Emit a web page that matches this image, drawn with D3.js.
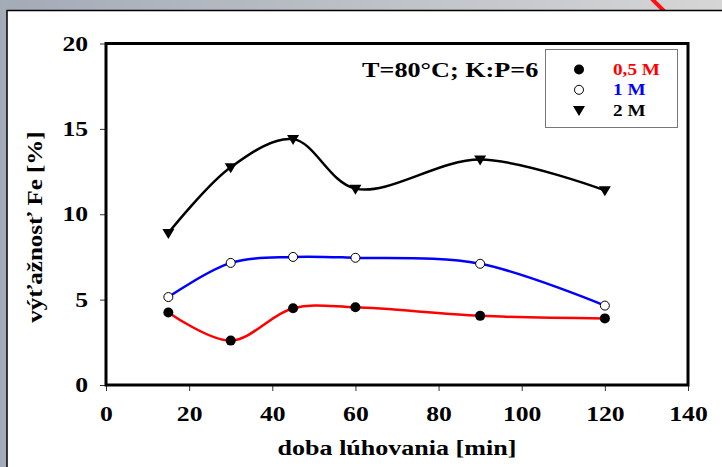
<!DOCTYPE html>
<html>
<head>
<meta charset="utf-8">
<script src="https://cdn.jsdelivr.net/npm/d3@7"></script>
</head>
<body style="margin:0">
<svg id="chart" width="722" height="467"></svg>
<script>
// //////// DATA

const times = [15, 30, 45, 60, 90, 120];
const series05 = [4.25, 2.6, 4.5, 4.55, 4.05, 3.9];
const series1 = [5.15, 7.15, 7.5, 7.45, 7.1, 4.65];
const series2 = [8.9, 12.75, 14.4, 11.5, 13.2, 11.4];
const seriesNames = ["0,5 M", "1 M", "2 M"];
const xTicks = [0, 20, 40, 60, 80, 100, 120, 140];
const yTicks = [0, 5, 10, 15, 20];

// //////// LAYOUT

const svg = d3.select("#chart");
const frame = { left: 106, right: 688, top: 43.5, bottom: 385 };

const x = d3.scaleLinear().domain([0, 140]).range([frame.left, frame.right]);
const y = d3.scaleLinear().domain([0, 20]).range([frame.bottom, frame.top]);

// bold serif text helper
function serif(sel, size) {
  return sel
    .style("font-family", '"Liberation Serif"')
    .style("font-weight", "bold")
    .style("font-size", `${size}px`);
}

// the source slide text is drawn wider than normal, widen glyphs to match
function widen(sel, k) {
  sel.each(function () {
    const len = this.getComputedTextLength();
    d3.select(this).attr("textLength", len * k).attr("lengthAdjust", "spacingAndGlyphs");
  });
  return sel;
}

// slide background (grey edge + white panel)
const defs = svg.append("defs");
const grad = defs.append("linearGradient").attr("id", "bg").attr("x1", 0).attr("x2", 1);
grad.append("stop").attr("offset", 0).attr("stop-color", "#a3abb7");
grad.append("stop").attr("offset", 1).attr("stop-color", "#d6d6d6");
svg.append("rect").attr("width", 722).attr("height", 467).attr("fill", "url(#bg)");
svg.append("line")
  .attr("x1", 651).attr("y1", -2).attr("x2", 667).attr("y2", 14)
  .attr("stroke", "#ff1010").attr("stroke-width", 4);
svg.append("rect")
  .attr("x", 7).attr("y", 10.5).attr("width", 730).attr("height", 470)
  .attr("fill", "white").attr("stroke", "black").attr("stroke-width", 1.5);

// //////// AXES

const g = svg.append("g");

function styleAxis(a) {
  a.select(".domain").remove();
  a.selectAll("line").attr("stroke", "#333").attr("stroke-width", 1);
  widen(serif(a.selectAll("text"), 20.5).attr("fill", "black"), 1.25);
}

g.append("g")
  .attr("transform", `translate(0,${frame.bottom})`)
  .call(d3.axisBottom(x).tickValues(xTicks).tickSize(6).tickPadding(15))
  .call(styleAxis);

g.append("g")
  .attr("transform", `translate(${frame.left},0)`)
  .call(d3.axisLeft(y).tickValues(yTicks).tickSize(6).tickPadding(12))
  .call(styleAxis);

// frame
g.append("rect")
  .attr("x", frame.left).attr("y", frame.top)
  .attr("width", frame.right - frame.left).attr("height", frame.bottom - frame.top)
  .attr("fill", "none").attr("stroke", "black").attr("stroke-width", 3);

// axis titles
widen(serif(svg.append("text"), 20.5)
  .attr("x", (frame.left + frame.right) / 2).attr("y", 455)
  .attr("text-anchor", "middle")
  .text("doba lúhovania [min]"), 1.27);

widen(serif(svg.append("text"), 20.5)
  .attr("transform", `translate(42,227) rotate(-90)`)
  .attr("text-anchor", "middle")
  .text("výťažnosť Fe [%]"), 1.22);

// //////// LINES

const line = d3.line()
  .x((d) => x(d[0]))
  .y((d) => y(d[1]))
  .curve(d3.curveCatmullRom.alpha(0.5));

const series = [
  { name: seriesNames[0], values: series05, color: "#ff0000", marker: "filled" },
  { name: seriesNames[1], values: series1, color: "#0000ff", marker: "open" },
  { name: seriesNames[2], values: series2, color: "#000000", marker: "triangle" },
];

series.forEach((s) => {
  const pts = times.map((t, i) => [t, s.values[i]]);
  g.append("path")
    .attr("d", line(pts))
    .attr("fill", "none")
    .attr("stroke", s.color)
    .attr("stroke-width", 2.5);
});

function drawMarker(sel, type, cx, cy) {
  if (type === "filled") {
    sel.append("circle").attr("cx", cx).attr("cy", cy).attr("r", 5).attr("fill", "black");
  } else if (type === "open") {
    sel.append("circle").attr("cx", cx).attr("cy", cy).attr("r", 4.5)
      .attr("fill", "white").attr("stroke", "black").attr("stroke-width", 1);
  } else {
    sel.append("path")
      .attr("d", `M${cx - 6},${cy - 4} L${cx + 6},${cy - 4} L${cx},${cy + 6} Z`)
      .attr("fill", "black");
  }
}

series.forEach((s) => {
  times.forEach((t, i) => drawMarker(g, s.marker, x(t), y(s.values[i])));
});

// //////// ANNOTATION + LEGEND

widen(serif(svg.append("text"), 22)
  .attr("x", 362).attr("y", 76.5)
  .text("T=80°C; K:P=6"), 1.19);

const legend = svg.append("g");
legend.append("rect")
  .attr("x", 545.5).attr("y", 49.5).attr("width", 132).attr("height", 78)
  .attr("fill", "white").attr("stroke", "#777").attr("stroke-width", 1);

series.forEach((s, i) => {
  const ly = 69.5 + i * 20.3;
  drawMarker(legend, s.marker, 579, ly);
  widen(serif(legend.append("text"), 16)
    .attr("x", 613).attr("y", ly + 5.5)
    .attr("fill", s.color)
    .text(s.name), 1.2);
});
</script>
</body>
</html>
